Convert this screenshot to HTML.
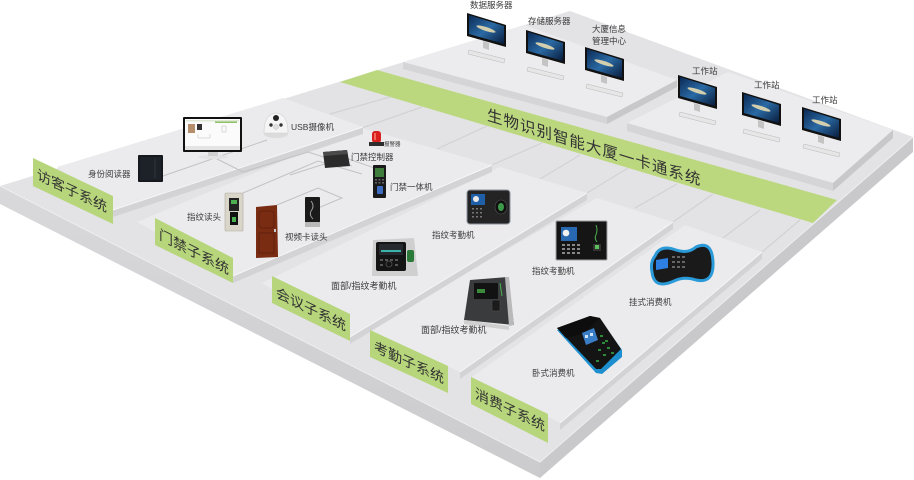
<!DOCTYPE html>
<html><head><meta charset="utf-8"><style>
html,body{margin:0;padding:0;background:#fff;}
svg{display:block;}
text{font-family:"Liberation Sans","Noto Sans CJK SC",sans-serif;}
</style></head><body>
<svg width="914" height="480" viewBox="0 0 914 480" xmlns="http://www.w3.org/2000/svg">
<defs>
<linearGradient id="scr" x1="0" y1="0" x2="1" y2="1">
<stop offset="0" stop-color="#0b2a55"/><stop offset="0.5" stop-color="#2a6aa4"/><stop offset="1" stop-color="#081c3c"/>
</linearGradient>
<linearGradient id="slabL" x1="0" y1="0" x2="0" y2="1">
<stop offset="0" stop-color="#d9d9db"/><stop offset="1" stop-color="#cbcbcd"/>
</linearGradient>
</defs>

<!-- main slab -->
<polygon points="0,186 570,11 913,137 540,462" fill="#e3e3e5"/>
<polygon points="0,186 540,462 540,478 0,204" fill="url(#slabL)"/>
<polygon points="540,462 913,137 913,152 540,478" fill="#c9c9cb"/>
<polyline points="0,186 540,462 913,137" fill="none" stroke="#eeeeef" stroke-width="1"/>

<!-- green band -->
<polygon points="340,82 377,70 837,200 813,223" fill="#bcd87f"/>

<!-- grid lines on slab -->
<g stroke="#d2d2d4" stroke-width="1.2" fill="none">
<line x1="330" y1="114" x2="390" y2="97"/>
<line x1="437" y1="149" x2="487" y2="126"/>
<line x1="540" y1="179" x2="580" y2="155"/>
<line x1="635" y1="208" x2="677" y2="184"/>
<line x1="723" y1="238" x2="760" y2="210"/>
<line x1="362" y1="128" x2="422" y2="107"/>
<line x1="492" y1="165" x2="542" y2="143"/>
<line x1="587" y1="193" x2="628" y2="168"/>
<line x1="673" y1="222" x2="713" y2="194"/>
<line x1="762" y1="252" x2="800" y2="220"/>
<line x1="150" y1="140" x2="300" y2="110"/>
</g>

<!-- server platform -->
<polygon points="403,62 524,25 677,80 607,117" fill="#ececee"/>
<polygon points="403,62 607,117 607,124 403,69" fill="#d5d5d7"/>
<polygon points="607,117 677,80 677,87 607,124" fill="#c8c8ca"/>

<!-- workstation platform -->
<polygon points="627,123 728,72 893,130 833,183" fill="#ececee"/>
<polygon points="627,123 833,183 833,191 627,131" fill="#d5d5d7"/>
<polygon points="833,183 893,130 893,138 833,191" fill="#c8c8ca"/>

<!-- plates (front to back) -->
<polygon points="472,377 685,225 762,252 560,423" fill="#ebebed"/>
<polygon points="560,423 762,252 762,259 560,430" fill="#d3d3d5"/>
<line x1="560" y1="423" x2="762" y2="252" stroke="#f6f6f6" stroke-width="1"/>

<polygon points="366,330 597,198 673,222 460,372" fill="#ebebed"/>
<polygon points="460,372 673,222 673,229 460,379" fill="#d3d3d5"/>
<line x1="460" y1="372" x2="673" y2="222" stroke="#f6f6f6" stroke-width="1"/>

<polygon points="262,283 500,167 587,193 350,337" fill="#ebebed"/>
<polygon points="350,337 587,193 587,200 350,344" fill="#d3d3d5"/>
<line x1="350" y1="337" x2="587" y2="193" stroke="#f6f6f6" stroke-width="1"/>

<polygon points="137,222 362,128 492,165 233,276" fill="#ebebed"/>
<polygon points="233,276 492,165 492,172 233,283" fill="#d3d3d5"/>
<line x1="233" y1="276" x2="492" y2="165" stroke="#f6f6f6" stroke-width="1"/>

<polygon points="57,167 283,98 363,127 113,210" fill="#ebebed"/>
<polygon points="113,210 363,127 363,134 113,217" fill="#d3d3d5"/>
<line x1="113" y1="210" x2="363" y2="127" stroke="#f6f6f6" stroke-width="1"/>

<!-- connection lines -->
<g stroke="#c2c2c4" stroke-width="1" fill="none">
<polyline points="163,176 267,140"/>
<polyline points="215,158 243,172 308,152 352,166"/>
<polyline points="243,193 318,161 362,174"/>
<polyline points="277,205 318,188 342,198 318,208"/>
<polyline points="340,156 386,172"/>
<polyline points="290,175 343,158"/>
</g>

<!-- monitors -->
<g transform="translate(467,13)">
<polygon points="1,41 2,37 38,46 37,50" fill="#e6e6e6" stroke="#b8b8b8" stroke-width="0.5"/>
<polygon points="16,28 22,30 22,37 16,35" fill="#c4c4c4"/>
<polygon points="0,0 39,12 39,34 0,23" fill="#111"/>
<polygon points="2,2 37,13 37,31 2,21" fill="url(#scr)"/>
<ellipse cx="19" cy="16" rx="10" ry="2" transform="rotate(18 19 16)" fill="#f1e2b2" opacity="0.85"/>
</g>
<g transform="translate(526,30)">
<polygon points="1,41 2,37 38,46 37,50" fill="#e6e6e6" stroke="#b8b8b8" stroke-width="0.5"/>
<polygon points="16,28 22,30 22,37 16,35" fill="#c4c4c4"/>
<polygon points="0,0 39,12 39,34 0,23" fill="#111"/>
<polygon points="2,2 37,13 37,31 2,21" fill="url(#scr)"/>
<ellipse cx="19" cy="16" rx="10" ry="2" transform="rotate(18 19 16)" fill="#f1e2b2" opacity="0.85"/>
</g>
<g transform="translate(585,47)">
<polygon points="1,41 2,37 38,46 37,50" fill="#e6e6e6" stroke="#b8b8b8" stroke-width="0.5"/>
<polygon points="16,28 22,30 22,37 16,35" fill="#c4c4c4"/>
<polygon points="0,0 39,12 39,34 0,23" fill="#111"/>
<polygon points="2,2 37,13 37,31 2,21" fill="url(#scr)"/>
<ellipse cx="19" cy="16" rx="10" ry="2" transform="rotate(18 19 16)" fill="#f1e2b2" opacity="0.85"/>
</g>
<g transform="translate(678,75)">
<polygon points="1,41 2,37 38,46 37,50" fill="#e6e6e6" stroke="#b8b8b8" stroke-width="0.5"/>
<polygon points="16,28 22,30 22,37 16,35" fill="#c4c4c4"/>
<polygon points="0,0 39,12 39,34 0,23" fill="#111"/>
<polygon points="2,2 37,13 37,31 2,21" fill="url(#scr)"/>
<ellipse cx="19" cy="16" rx="10" ry="2" transform="rotate(18 19 16)" fill="#f1e2b2" opacity="0.85"/>
</g>
<g transform="translate(742,92)">
<polygon points="1,41 2,37 38,46 37,50" fill="#e6e6e6" stroke="#b8b8b8" stroke-width="0.5"/>
<polygon points="16,28 22,30 22,37 16,35" fill="#c4c4c4"/>
<polygon points="0,0 39,12 39,34 0,23" fill="#111"/>
<polygon points="2,2 37,13 37,31 2,21" fill="url(#scr)"/>
<ellipse cx="19" cy="16" rx="10" ry="2" transform="rotate(18 19 16)" fill="#f1e2b2" opacity="0.85"/>
</g>
<g transform="translate(802,107)">
<polygon points="1,41 2,37 38,46 37,50" fill="#e6e6e6" stroke="#b8b8b8" stroke-width="0.5"/>
<polygon points="16,28 22,30 22,37 16,35" fill="#c4c4c4"/>
<polygon points="0,0 39,12 39,34 0,23" fill="#111"/>
<polygon points="2,2 37,13 37,31 2,21" fill="url(#scr)"/>
<ellipse cx="19" cy="16" rx="10" ry="2" transform="rotate(18 19 16)" fill="#f1e2b2" opacity="0.85"/>
</g>

<!-- devices: visitor -->
<rect x="138" y="155" width="25" height="27" rx="1" fill="#15181c"/>
<rect x="140" y="157" width="21" height="23" fill="#1d2228"/>
<line x1="155" y1="159" x2="155" y2="178" stroke="#3a4450" stroke-width="0.6"/>
<!-- visitor monitor -->
<ellipse cx="213" cy="157" rx="15" ry="2.2" fill="#e2e2e2"/>
<rect x="208" y="151" width="10" height="5" fill="#d0d0d0"/>
<rect x="183" y="117" width="59" height="35" rx="1" fill="#111"/>
<rect x="185" y="119" width="55" height="27" fill="#fbfbfb"/>
<rect x="185" y="146" width="55" height="4" fill="#e4e4e4"/>
<rect x="188" y="124" width="7" height="9" fill="#b58f6c"/>
<rect x="197" y="124" width="5" height="6" fill="#333"/>
<rect x="215" y="121" width="22" height="2" fill="#8fc06a"/>
<rect x="186" y="120" width="53" height="1.5" fill="#dfe8d4"/>
<g stroke="#bbb" stroke-width="0.5" fill="none"><polyline points="198,134 198,138 210,138 210,134"/><rect x="222" y="126" width="4" height="6"/></g>
<!-- camera -->
<ellipse cx="276" cy="134" rx="12" ry="4" fill="#dcdcdc"/>
<path d="M264 133 Q264 114 276 113 Q288 114 288 133 Z" fill="#f5f5f5" stroke="#cfcfcf" stroke-width="0.6"/>
<circle cx="276" cy="118" r="3" fill="#222"/>
<circle cx="271" cy="125" r="1.7" fill="#333"/><circle cx="281" cy="125" r="1.7" fill="#333"/>
<circle cx="276" cy="127" r="2.4" fill="#e0e0e0" stroke="#aaa" stroke-width="0.4"/>
<!-- alarm -->
<rect x="372" y="131" width="9" height="12" rx="3" fill="#d8201c"/>
<rect x="374" y="133" width="2" height="7" fill="#f36a5a"/>
<rect x="369" y="142" width="15" height="4" fill="#2d2d2d"/>
<!-- controller -->
<polygon points="323,152 347,150 350,166 325,168" fill="#2b2b2b"/>
<polygon points="323,152 347,150 348,154 324,156" fill="#4a4a4a"/>
<!-- 门禁一体机 -->
<rect x="373" y="165" width="13" height="33" rx="1" fill="#1a1a1a"/>
<rect x="375" y="168" width="9" height="9" fill="#3f7d3c"/>
<g fill="#666"><rect x="375" y="179" width="2" height="1.5"/><rect x="378.5" y="179" width="2" height="1.5"/><rect x="382" y="179" width="2" height="1.5"/><rect x="375" y="182" width="2" height="1.5"/><rect x="378.5" y="182" width="2" height="1.5"/><rect x="382" y="182" width="2" height="1.5"/></g>
<rect x="377" y="186" width="6" height="8" rx="1" fill="#3d6cc0"/>
<!-- 指纹读头 -->
<rect x="225" y="193" width="18" height="38" rx="1" fill="#d9d5c8" stroke="#b0ad9f" stroke-width="0.6"/>
<rect x="229" y="198" width="10" height="13" fill="#222"/>
<rect x="231" y="200" width="6" height="4" fill="#4caf50"/>
<rect x="230" y="212" width="8" height="13" fill="#111"/>
<rect x="232" y="217" width="4" height="5" fill="#4caf50"/>
<!-- door -->
<polygon points="256,207 277,205 278,257 256,258" fill="#7a2c13"/>
<g fill="none" stroke="#5a1d0a" stroke-width="0.8">
<rect x="259" y="211" width="15" height="17" rx="3"/>
<rect x="259" y="233" width="15" height="20"/>
</g>
<rect x="274" y="229" width="2" height="3" fill="#ccc"/>
<!-- 视频卡读头 -->
<rect x="305" y="197" width="15" height="30" rx="1" fill="#1a1a1a"/>
<rect x="305" y="222" width="15" height="5" fill="#b8b8b8"/>
<path d="M311 201 Q315 206 311 211 Q309 215 313 219" stroke="#999" stroke-width="1" fill="none"/>

<!-- meeting: 指纹考勤机 -->
<rect x="467" y="190" width="43" height="34" rx="3" fill="#242424" stroke="#8e969e" stroke-width="1"/>
<rect x="471" y="194" width="14" height="11" fill="#1f5fa8"/>
<circle cx="476" cy="199" r="3" fill="#e8e8e8"/>
<g fill="#777"><rect x="472" y="208" width="2" height="1.5"/><rect x="476" y="208" width="2" height="1.5"/><rect x="480" y="208" width="2" height="1.5"/><rect x="472" y="212" width="2" height="1.5"/><rect x="476" y="212" width="2" height="1.5"/><rect x="480" y="212" width="2" height="1.5"/><rect x="472" y="216" width="2" height="1.5"/><rect x="476" y="216" width="2" height="1.5"/><rect x="480" y="216" width="2" height="1.5"/></g>
<ellipse cx="501" cy="207" rx="6" ry="7" fill="#111" stroke="#555" stroke-width="0.6"/>
<ellipse cx="501" cy="207" rx="3" ry="4" fill="#3d9a4a"/>
<!-- meeting: 面部/指纹考勤机 -->
<polygon points="373,240 414,238 418,276 372,276" fill="#cfcfcf"/>
<rect x="376" y="242" width="30" height="29" rx="2" fill="#141414"/>
<rect x="379" y="244" width="24" height="11" fill="#26292d"/>
<rect x="381" y="250" width="20" height="2" fill="#3bb3a8"/>
<g fill="#555"><rect x="380" y="259" width="3" height="2"/><rect x="385" y="259" width="3" height="2"/><rect x="390" y="259" width="3" height="2"/><rect x="395" y="259" width="3" height="2"/><rect x="380" y="264" width="3" height="2"/><rect x="395" y="264" width="3" height="2"/></g>
<circle cx="389" cy="264" r="3" fill="none" stroke="#555" stroke-width="0.8"/>
<rect x="407" y="250" width="7" height="12" rx="2" fill="#2b7a3a"/>
<!-- attendance: 面部/指纹考勤机 -->
<polygon points="470,280 508,277 514,325 464,320" fill="#3a3b3d"/>
<polygon points="505,277 509,277 514,325 509,326" fill="#b9b9b9"/>
<polygon points="464,320 509,326 509,330 464,324" fill="#cfcfcf"/>
<rect x="474" y="283" width="24" height="16" fill="#121212"/>
<rect x="477" y="289" width="8" height="4" fill="#3c8a3c"/>
<rect x="492" y="300" width="8" height="11" rx="1" fill="#1b1b1b" stroke="#555" stroke-width="0.5"/>
<line x1="500" y1="283" x2="502" y2="296" stroke="#4caf50" stroke-width="1"/>
<!-- attendance: 指纹考勤机 -->
<rect x="556" y="221" width="51" height="39" rx="1" fill="#151515" stroke="#9ea0a2" stroke-width="1"/>
<rect x="561" y="227" width="16" height="14" fill="#2868b0"/>
<circle cx="566" cy="233" r="3.3" fill="#f0f0f0"/>
<g fill="#888"><rect x="562" y="244" width="3" height="2"/><rect x="567" y="244" width="3" height="2"/><rect x="572" y="244" width="3" height="2"/><rect x="577" y="244" width="3" height="2"/><rect x="562" y="248" width="3" height="2"/><rect x="567" y="248" width="3" height="2"/><rect x="572" y="248" width="3" height="2"/><rect x="577" y="248" width="3" height="2"/><rect x="562" y="252" width="3" height="2"/><rect x="567" y="252" width="3" height="2"/><rect x="572" y="252" width="3" height="2"/><rect x="577" y="252" width="3" height="2"/></g>
<path d="M596 225 Q598 230 596 235 Q594 238 597 242" stroke="#4caf50" stroke-width="1" fill="none"/>
<rect x="593" y="244" width="8" height="7" fill="#333"/>
<rect x="595" y="245" width="4" height="4" fill="#5cbf5c"/>
<!-- 挂式消费机 -->
<path d="M655 256 Q660 244 676 250 Q688 254 696 247 Q712 240 713 262 Q714 284 696 280 Q684 276 674 281 Q654 290 652 272 Q650 262 655 256 Z" fill="#1a1a1a" stroke="#2a9ad8" stroke-width="3"/>
<polygon points="656,260 668,258 668,268 656,270" fill="#2d7fe2"/>
<g fill="#666"><rect x="672" y="256" width="3" height="2"/><rect x="677" y="256" width="3" height="2"/><rect x="682" y="256" width="3" height="2"/><rect x="672" y="261" width="3" height="2"/><rect x="677" y="261" width="3" height="2"/><rect x="682" y="261" width="3" height="2"/><rect x="672" y="266" width="3" height="2"/><rect x="677" y="266" width="3" height="2"/><rect x="682" y="266" width="3" height="2"/></g>
<!-- 卧式消费机 -->
<polygon points="557,330 596,373 602,374 622,357 622,350 600,319" fill="#1d8fcf"/>
<polygon points="557,328 590,316 600,318 621,349 601,369 596,369" fill="#141414"/>
<polygon points="557,328 590,316 600,318 584,333 566,338" fill="#0d0d0d"/>
<polygon points="582,333 594,328 598,340 586,345" fill="#3a7ec8"/>
<rect x="585" y="335" width="3" height="3" fill="#cfe3ff"/><rect x="590" y="333" width="3" height="3" fill="#cfe3ff"/>
<g fill="#2e8a3a"><rect x="600" y="335" width="3" height="2"/><rect x="605" y="340" width="3" height="2"/><rect x="602" y="342" width="3" height="2"/><rect x="607" y="347" width="3" height="2"/><rect x="598" y="349" width="3" height="2"/><rect x="603" y="354" width="3" height="2"/><rect x="611" y="352" width="3" height="2"/><rect x="596" y="360" width="3" height="2"/></g>

<!-- subsystem labels -->
<polygon points="33,158 113,196 113,224 33,186" fill="#b7d67b"/>
<polygon points="155,218 233,258 233,283 155,245" fill="#b7d67b"/>
<polygon points="272,276 350,314 350,341 272,303" fill="#b7d67b"/>
<polygon points="370,330 448,366 448,393 370,357" fill="#b7d67b"/>
<polygon points="471,377 548,414 548,443 471,404" fill="#b7d67b"/>
<g fill="#333" font-size="14">
<g transform="translate(37,179) skewY(25.5)"><text x="0" y="0">访客子系统</text></g>
<g transform="translate(159,239) skewY(27)"><text x="0" y="0">门禁子系统</text></g>
<g transform="translate(276,297) skewY(26)"><text x="0" y="0">会议子系统</text></g>
<g transform="translate(374,351) skewY(25)"><text x="0" y="0">考勤子系统</text></g>
<g transform="translate(475,398) skewY(25.5)"><text x="0" y="0">消费子系统</text></g>
</g>

<!-- green band title -->
<g transform="translate(487,120) skewY(17)"><text x="0" y="0" font-size="15.5" letter-spacing="1" fill="#333">生物识别智能大厦一卡通系统</text></g>

<!-- device labels -->
<g fill="#3a3a3a" font-size="8.5">
<text x="470" y="8">数据服务器</text>
<text x="528" y="24">存储服务器</text>
<text x="592" y="32">大厦信息</text>
<text x="592" y="44">管理中心</text>
<text x="692" y="74">工作站</text>
<text x="754" y="88">工作站</text>
<text x="812" y="103">工作站</text>
<text x="88" y="177">身份阅读器</text>
<text x="291" y="130">USB摄像机</text>
<text x="351" y="160">门禁控制器</text>
<text x="390" y="190">门禁一体机</text>
<text x="187" y="220">指纹读头</text>
<text x="285" y="240">视频卡读头</text>
<text x="432" y="238">指纹考勤机</text>
<text x="331" y="289" font-size="9">面部/指纹考勤机</text>
<text x="421" y="333" font-size="9">面部/指纹考勤机</text>
<text x="532" y="274">指纹考勤机</text>
<text x="629" y="305">挂式消费机</text>
<text x="532" y="376">卧式消费机</text>
<text x="384" y="146" font-size="5.5">报警器</text>
</g>
</svg>
</body></html>
